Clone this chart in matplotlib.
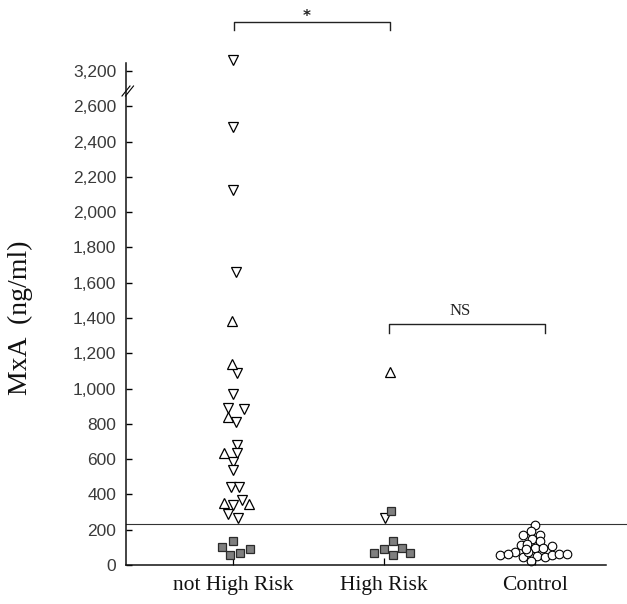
import matplotlib
matplotlib.use('Agg')
import matplotlib.pyplot as plt
import numpy as np

# --- data ---
categories = ['not High Risk', 'High Risk', 'Control']
cutoff = 235

# not High Risk
nhr_down = [3260, 2480, 2125, 1660, 1088, 969, 890, 884, 810, 680, 635, 584,
            538, 442, 442, 340, 368, 289, 266]
nhr_down_dx = [0, 0, 0, 3, 4, 0, -5, 11, 3, 4, 4, 0, 0, -2, 6, 0, 9, -5, 5]
nhr_up = [1382, 1139, 838, 635, 351, 345]
nhr_up_dx = [-1, -1, -5, -9, -9, 16]
nhr_sq = [102, 136, 57, 68, 91]
nhr_sq_dx = [-11, 0, -3, 7, 17]

# High Risk
hr_up = [1094]
hr_up_dx = [6]
hr_down = [266]
hr_down_dx = [1]
hr_sq = [306, 136, 91, 96, 68, 68, 57]
hr_sq_dx = [7, 9, 0, 18, -10, 26, 9]

# Control
ctl = [226, 193, 170, 170, 147, 136, 113, 119, 96, 96, 108, 74, 57, 62, 45,
       74, 51, 45, 57, 62, 62, 23, 91]
ctl_dx = [0, -4, -12, 5, -3, 5, -14, -8, 0, 8, 17, -20, -35, -27, -12,
          -7, 2, 10, 17, 24, 32, -4, -9]

yticks = [0, 200, 400, 600, 800, 1000, 1200, 1400, 1600, 1800, 2000, 2200,
          2400, 2600, 3200]

BREAK = 2700
GAP = 400   # 3200 is drawn where 2800 would be
PX = 151.0  # pixels per category step


def ymap(v):
    v = np.asarray(v, dtype=float)
    return np.where(v > BREAK, v - GAP, v)


def xs(pos, dx):
    return pos + np.asarray(dx, dtype=float) / PX


fig = plt.figure(figsize=(6.27, 6.04), dpi=100)
ax = fig.add_axes([126 / 627, 39 / 604, 480 / 627, 502 / 604])

tri = dict(linestyle='none', markersize=7.4, markerfacecolor='white',
           markeredgecolor='black', markeredgewidth=0.9, clip_on=False)
sq = dict(linestyle='none', marker='s', markersize=6.2, markerfacecolor='#7f7f7f',
          markeredgecolor='#2b2b2b', markeredgewidth=0.9, clip_on=False)
circ = dict(linestyle='none', marker='o', markersize=6.2, markerfacecolor='white',
            markeredgecolor='black', markeredgewidth=0.8, clip_on=False)

# threshold line (runs past the right end of the axis)
ax.axhline(cutoff, xmin=0, xmax=(627 - 126) / 480, color='#333333', lw=0.8,
           clip_on=False, zorder=1)

ax.plot(xs(0, nhr_down_dx), ymap(nhr_down), marker='v', **tri)
ax.plot(xs(0, nhr_up_dx), ymap(nhr_up), marker='^', **tri)
ax.plot(xs(0, nhr_sq_dx), ymap(nhr_sq), **sq)

ax.plot(xs(1, hr_up_dx), ymap(hr_up), marker='^', **tri)
ax.plot(xs(1, hr_down_dx), ymap(hr_down), marker='v', **tri)
ax.plot(xs(1, hr_sq_dx), ymap(hr_sq), **sq)

for x, y in zip(xs(2, ctl_dx), ctl):
    ax.plot(x, y, **circ)

ax.set_xlim((126 - 233) / PX, (606 - 233) / PX)
ax.set_ylim(0, 2845)

for s in ['top', 'right']:
    ax.spines[s].set_visible(False)
for s in ['left', 'bottom']:
    ax.spines[s].set_linewidth(1.1)
    ax.spines[s].set_color('#111111')

ax.set_yticks(ymap(yticks))
ax.set_yticklabels([f'{v:,}' for v in yticks], family='Liberation Sans',
                   fontsize=12.5, color='#3a3a3a')
ax.tick_params(axis='y', direction='in', length=4.5, width=1, pad=7)

ax.set_xticks([0, 1, 2])
ax.set_xticklabels(categories, family='Liberation Serif', fontsize=15.5,
                   color='#111111')
ax.tick_params(axis='x', direction='in', length=5, width=0.9, pad=8)

ax.set_ylabel('MxA  (ng/ml)', family='Liberation Serif', fontsize=20,
              color='#111111')
ax.yaxis.set_label_coords((33 - 126) / 480, (565 - 318) / 502)

# axis break mark
for off in (0, 3.5):
    ax.plot([(122 - 126 + off) / 480, (130 - 126 + off) / 480],
            [(565 - 96) / 502, (565 - 86) / 502], transform=ax.transAxes,
            color='black', lw=0.8, clip_on=False)


def ypx(p):
    return (565 - p) * 200 / 35.3


def xpx(p):
    return (p - 233) / PX


# significance brackets
bk = dict(color='#222222', lw=1.0, clip_on=False)
ax.plot([xpx(234), xpx(234), xpx(390), xpx(390)],
        [ypx(30), ypx(22), ypx(22), ypx(30)], **bk)
ax.text(xpx(307), ypx(16), '*', ha='center', va='center', fontsize=11,
        family='DejaVu Sans', fontweight='bold', color='#222222')
ax.plot([xpx(389), xpx(389), xpx(545), xpx(545)],
        [ypx(333), ypx(324), ypx(324), ypx(333)], **bk)
ax.text(xpx(460), ypx(311), 'NS', ha='center', va='center',
        family='Liberation Serif', fontsize=12, color='#222222')

fig.savefig('out.png', dpi=100)
